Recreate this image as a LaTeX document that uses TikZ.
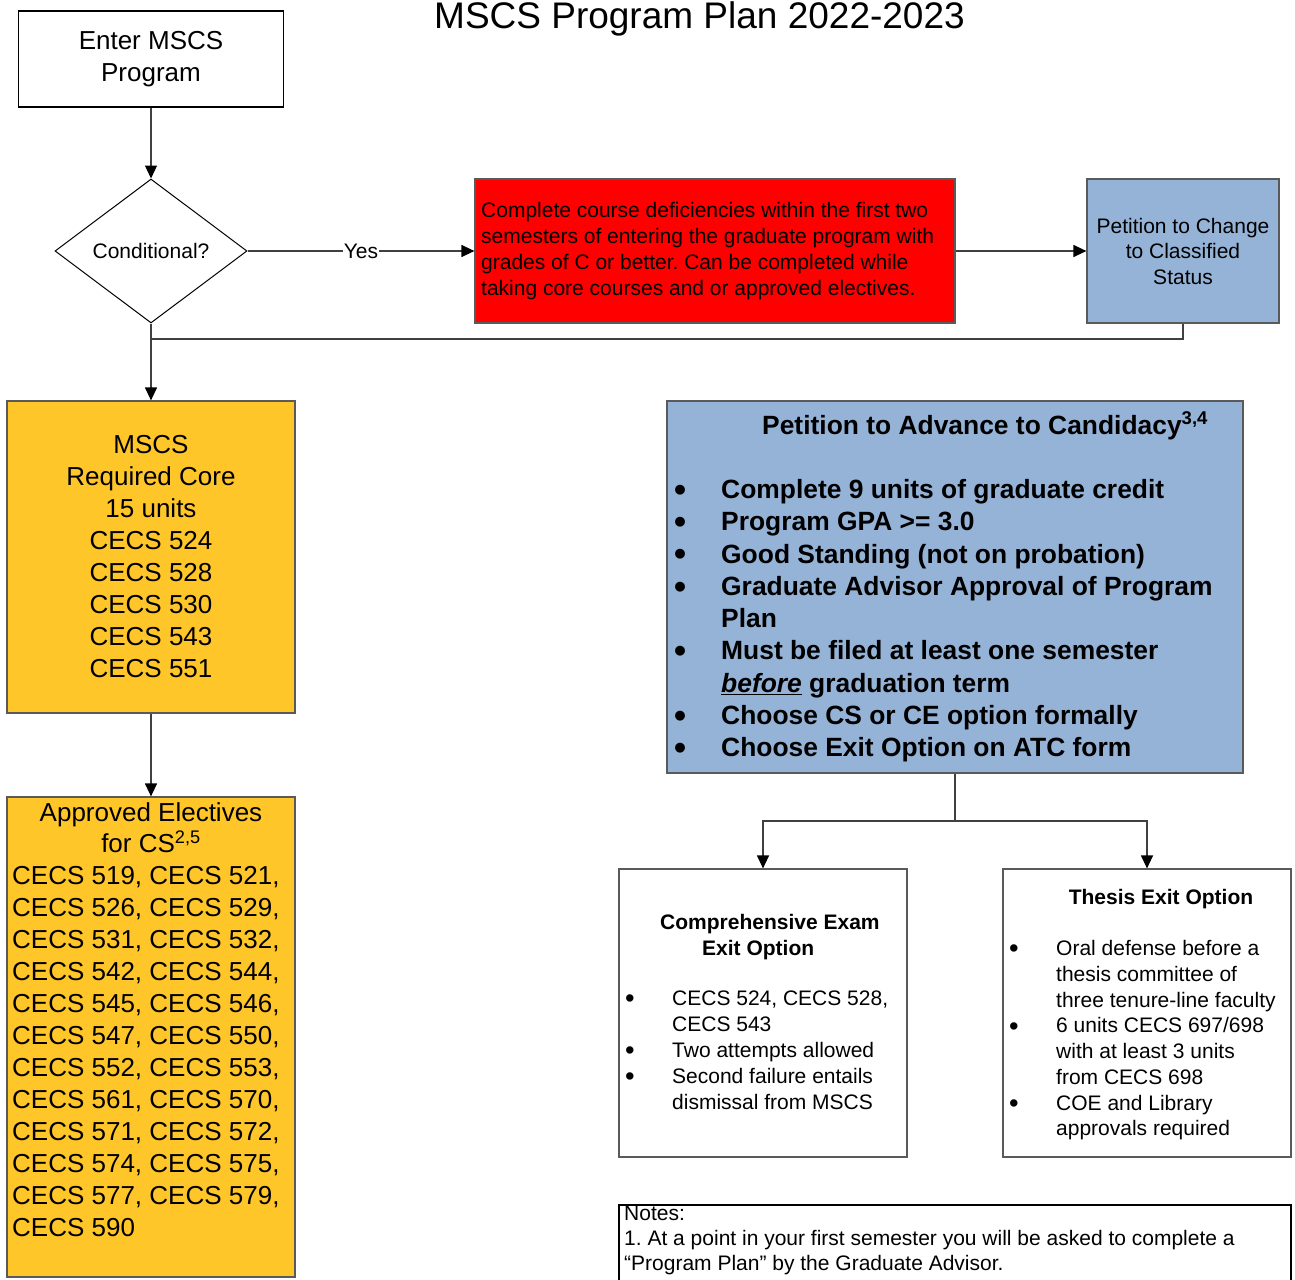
\documentclass[tikz,border=0pt]{standalone}
\usepackage{fontspec}
\usepackage{graphicx}
\setmainfont{Liberation Sans}
\usetikzlibrary{shapes.geometric,arrows.meta}
\definecolor{boxred}{RGB}{255,0,0}
\definecolor{boxblue}{RGB}{149,179,215}
\definecolor{boxgold}{RGB}{255,198,41}
\definecolor{edgecol}{RGB}{64,64,64}
\definecolor{framecol}{RGB}{90,90,90}
\newcommand\fs[2]{\fontsize{#1}{#2}\selectfont}
\newcommand\bul[1]{\makebox[#1][l]{\raisebox{-0.1em}{\scalebox{1.3}{\textbullet}}}}
\newcommand\ind[1]{\hspace*{#1}}
\frenchspacing
\begin{document}
\begin{tikzpicture}[x=1pt,y=-1pt,
  rbox/.style={draw=framecol, line width=1.2pt, inner sep=0pt, align=center},
  txt/.style={inner sep=0pt, align=left},
  conn/.style={draw=edgecol, line width=1.2pt},
  arr/.style={conn, -{Triangle[length=13pt,width=12pt,color=black]}},
  small/.style={font=\fs{21}{26}},
  big/.style={font=\fs{26}{32}}]
\useasboundingbox (0,0) rectangle (1295,1279);
\clip (0,0) rectangle (1295,1279);

% title
\node[anchor=base, inner sep=0pt, font=\fs{37}{44}] (title) at (699.5,29) {MSCS Program Plan 2022-2023};

% boxes
\node[rbox, draw=black, minimum width=265pt, minimum height=96pt, big] (enter) at (151,59) {Enter MSCS\\Program};
\node[diamond, draw=black, line width=1pt, minimum width=192pt, minimum height=144pt, inner sep=0pt, small] (cond) at (151,251) {Conditional?};
\node[rbox, fill=boxred, minimum width=480pt, minimum height=144pt] (red) at (715,251) {};
\node[txt, anchor=west, small] (redtxt) at (481,251) {Complete course deficiencies within the first two\\semesters of entering the graduate program with\\grades of C or better. Can be completed while\\taking core courses and or approved electives.};
\node[rbox, fill=boxblue, minimum width=192pt, minimum height=144pt, font=\fs{21}{25.5}] (pcs) at (1183,251) {Petition to Change\\to Classified\\Status};

\node[rbox, fill=boxgold, minimum width=288pt, minimum height=312pt, big] (core) at (151,557) {MSCS\\Required Core\\15 units\\CECS 524\\CECS 528\\CECS 530\\CECS 543\\CECS 551};

\node[rbox, fill=boxgold, minimum width=288pt, minimum height=480pt] (elec) at (151,1037) {};
\node[txt, align=center, anchor=north, font=\fs{26}{31}] (electitle) at (151,802.6) {Approved Electives\\for CS\textsuperscript{2,5}};
\node[txt, anchor=north west, big] (eleclist) at (12,866.6) {CECS 519, CECS 521,\\CECS 526, CECS 529,\\CECS 531, CECS 532,\\CECS 542, CECS 544,\\CECS 545, CECS 546,\\CECS 547, CECS 550,\\CECS 552, CECS 553,\\CECS 561, CECS 570,\\CECS 571, CECS 572,\\CECS 574, CECS 575,\\CECS 577, CECS 579,\\CECS 590};

\node[rbox, fill=boxblue, minimum width=576pt, minimum height=372pt] (pac) at (955,587) {};
\node[anchor=base west, inner sep=0pt, font=\bfseries\fs{26.4}{32}] (pactitle) at (762,434) {Petition to Advance to Candidacy\textsuperscript{3,4}};
\node[txt, anchor=north west, font=\bfseries\fs{26.4}{32.25}] (paclist) at (674,479.4) {\bul{47pt}Complete 9 units of graduate credit\\\bul{47pt}Program GPA >= 3.0\\\bul{47pt}Good Standing (not on probation)\\\bul{47pt}Graduate Advisor Approval of Program\\\ind{47pt}Plan\\\bul{47pt}Must be filed at least one semester\\\ind{47pt}\underline{\textit{before}} graduation term\\\bul{47pt}Choose CS or CE option formally\\\bul{47pt}Choose Exit Option on ATC form};

\node[rbox, minimum width=288pt, minimum height=288pt] (comp) at (763,1013) {};
\node[txt, anchor=north west, font=\bfseries\fs{21}{26}] (comptitle) at (660,914.4) {Comprehensive Exam\\\ind{42pt}Exit Option};
\node[txt, anchor=north west, small] (complist) at (625,990.4) {\bul{47pt}CECS 524, CECS 528,\\\ind{47pt}CECS 543\\\bul{47pt}Two attempts allowed\\\bul{47pt}Second failure entails\\\ind{47pt}dismissal from MSCS};

\node[rbox, minimum width=288pt, minimum height=288pt] (thesis) at (1147,1013) {};
\node[anchor=base, inner sep=0pt, font=\bfseries\fs{21}{26}] (thesistitle) at (1161,904.5) {Thesis Exit Option};
\node[txt, anchor=north west, font=\fs{21}{25.7}] (thesislist) at (1009,940.4) {\bul{47pt}Oral defense before a\\\ind{47pt}thesis committee of\\\ind{47pt}three tenure-line faculty\\\bul{47pt}6 units CECS 697/698\\\ind{47pt}with at least 3 units\\\ind{47pt}from CECS 698\\\bul{47pt}COE and Library\\\ind{47pt}approvals required};

\node[draw=black, line width=2.5pt, inner sep=0pt, minimum width=672pt, minimum height=115pt] (notes) at (955,1262.5) {};
\node[txt, anchor=north west, font=\fs{21}{25}] (notestxt) at (624,1205.4) {Notes:\\1. At a point in your first semester you will be asked to complete a\\“Program Plan” by the Graduate Advisor.};

% connectors
\draw[arr] (enter.south) -- (cond.north);
\draw[arr] (cond.east) -- node[fill=white, inner sep=1pt, small] (yes) {Yes} (red.west);
\draw[arr] (red.east) -- (pcs.west);
\coordinate (join) at (151,339);
\draw[conn] (pcs.south) |- (join);
\draw[arr] (cond.south) -- (core.north);
\draw[arr] (core.south) -- (elec.north);
\coordinate (split) at (955,821);
\draw[conn] (pac.south) -- (split);
\draw[arr] (split) -| (comp.north);
\draw[arr] (split) -| (thesis.north);
\end{tikzpicture}
\end{document}
